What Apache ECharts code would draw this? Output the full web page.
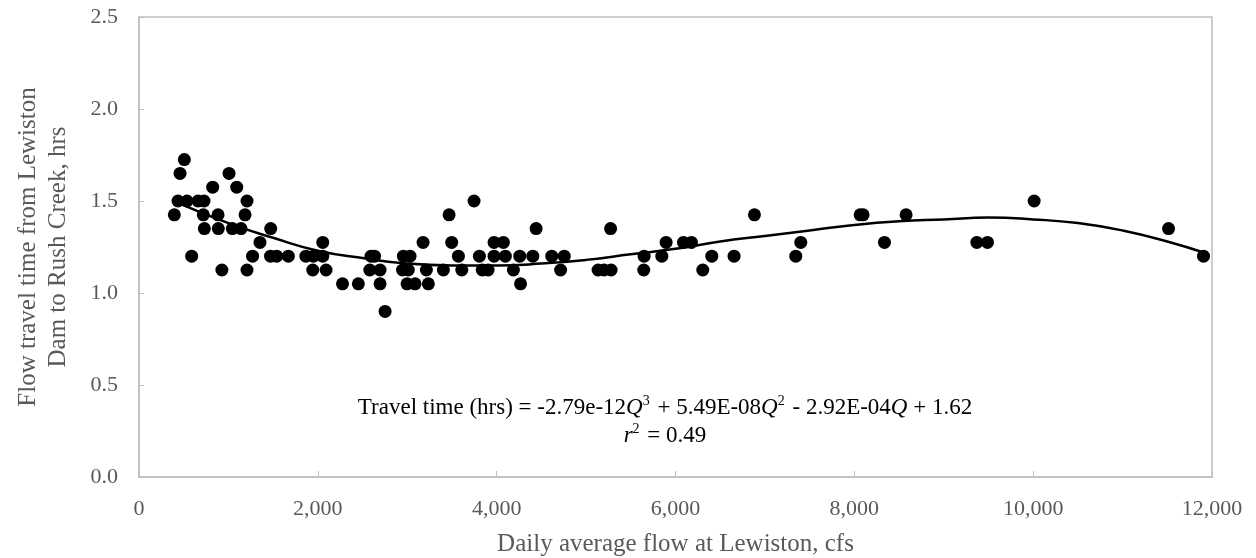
<!DOCTYPE html>
<html>
<head>
<meta charset="utf-8">
<script src="https://cdn.jsdelivr.net/npm/echarts@6/dist/echarts.min.js"></script>
<style>
  html, body { margin: 0; padding: 0; background: #fff; }
  #chart { width: 1256px; height: 558px; }
</style>
</head>
<body>
<div id="chart"></div>
<script>
// observed days: flow at Lewiston (cfs) and travel time (hrs)
const flowCfs = [
  507,
  459, 1007,
  824, 1093,
  436, 537, 660, 727, 1208, 3747, 10011,
  395, 719, 884, 1186, 3468, 6883, 8065, 8098, 8579,
  731, 887, 1044, 1141, 1473, 4441, 5274, 11514,
  1353, 2055, 3177, 3497, 3971, 4075, 5895, 6089, 6178, 7401, 8337, 9370, 9489,
  589, 1270, 1471, 1540, 1670, 1866, 1950, 2055, 2595, 2634, 2957, 3031, 3572, 3807, 3971, 4097, 4258, 4404, 4616, 4756, 5649, 5847, 6406, 6655, 7345, 11905,
  927, 1208, 1943, 2092, 2581, 2696, 2947, 3012, 3214, 3404, 3610, 3839, 3904, 4187, 4715, 5134, 5201, 5280, 5645, 6305,
  2276, 2453, 2696, 2998, 3087, 3236, 4267,
  2752
];
const travelHrs = [
  1.725,
  1.65, 1.65,
  1.575, 1.575,
  1.5, 1.5, 1.5, 1.5, 1.5, 1.5, 1.5,
  1.425, 1.425, 1.425, 1.425, 1.425, 1.425, 1.425, 1.425, 1.425,
  1.35, 1.35, 1.35, 1.35, 1.35, 1.35, 1.35, 1.35,
  1.275, 1.275, 1.275, 1.275, 1.275, 1.275, 1.275, 1.275, 1.275, 1.275, 1.275, 1.275, 1.275,
  1.2, 1.2, 1.2, 1.2, 1.2, 1.2, 1.2, 1.2, 1.2, 1.2, 1.2, 1.2, 1.2, 1.2, 1.2, 1.2, 1.2, 1.2, 1.2, 1.2, 1.2, 1.2, 1.2, 1.2, 1.2, 1.2,
  1.125, 1.125, 1.125, 1.125, 1.125, 1.125, 1.125, 1.125, 1.125, 1.125, 1.125, 1.125, 1.125, 1.125, 1.125, 1.125, 1.125, 1.125, 1.125, 1.125,
  1.05, 1.05, 1.05, 1.05, 1.05, 1.05, 1.05,
  0.9
];

// cubic trend line
const fitFlow = [436, 1000, 1500, 2000, 2500, 3000, 3500, 4000, 4500, 5000, 5500, 6000,
  6500, 7000, 7500, 8000, 8500, 9000, 9500, 10000, 10500, 11000, 11500, 11905];
const fitHrs = [1.49, 1.38, 1.30, 1.23, 1.19, 1.16, 1.15, 1.15, 1.16, 1.18, 1.21, 1.24,
  1.28, 1.31, 1.34, 1.37, 1.39, 1.40, 1.41, 1.40, 1.38, 1.34, 1.28, 1.22];

const xTicks = [0, 2000, 4000, 6000, 8000, 10000, 12000];

const FONT = '"Liberation Serif", "Times New Roman", serif';
const GRAY = '#595959';
const LINE = '#bfbfbf';

let chart = echarts.init(document.getElementById('chart'));

let points = flowCfs.map((q, i) => [q, travelHrs[i]]);
let fit = fitFlow.map((q, i) => [q, fitHrs[i]]);

// rich text styles for the fitted equation
const eqRich = {
  t: {fontFamily: FONT, fontSize: 23, color: GRAY, lineHeight: 28},
  i: {fontFamily: FONT, fontSize: 23, fontStyle: 'italic', color: GRAY, lineHeight: 28},
  s: {fontFamily: FONT, fontSize: 14, color: GRAY, verticalAlign: 'top', lineHeight: 28, padding: [0, 2, 12, 0]}
};

chart.setOption({
  animation: false,
  backgroundColor: '#fff',
  grid: {
    left: 139,
    right: 44,
    top: 17,
    bottom: 81,
    outerBoundsMode: 'none',
    show: true,
    borderColor: LINE,
    borderWidth: 1.5
  },
  xAxis: {
    type: 'value',
    min: xTicks[0],
    max: xTicks[xTicks.length - 1],
    interval: 2000,
    name: 'Daily average flow at Lewiston, cfs',
    nameLocation: 'middle',
    nameGap: 55,
    nameTextStyle: {fontFamily: FONT, fontSize: 25, color: GRAY},
    axisLine: {lineStyle: {color: LINE, width: 1.5}},
    axisTick: {show: true, inside: true, length: 6, lineStyle: {color: LINE}},
    splitLine: {show: false},
    axisLabel: {
      fontFamily: FONT, fontSize: 22, color: GRAY, margin: 21,
      formatter: (v) => v.toLocaleString('en-US')
    }
  },
  yAxis: {
    type: 'value',
    min: 0,
    max: 2.5,
    interval: 0.5,
    name: 'Flow travel time from Lewiston\nDam to Rush Creek, hrs',
    nameLocation: 'middle',
    nameGap: 66,
    nameTextStyle: {fontFamily: FONT, fontSize: 25, color: GRAY, lineHeight: 30},
    axisLine: {show: true, lineStyle: {color: LINE, width: 1.5}},
    axisTick: {show: true, inside: true, length: 5, lineStyle: {color: LINE}},
    splitLine: {show: false},
    axisLabel: {
      fontFamily: FONT, fontSize: 22, color: GRAY, margin: 21,
      formatter: (v) => v.toFixed(1)
    }
  },
  graphic: [{
    type: 'text',
    x: 665,
    y: 394,
    style: {
      text: '{t|Travel time (hrs) = -2.79e-12}{i|Q}{s|3}{t| + 5.49E-08}{i|Q}{s|2}{t| - 2.92E-04}{i|Q}{t| + 1.62}',
      align: 'center',
      rich: eqRich
    }
  }, {
    type: 'text',
    x: 665,
    y: 422,
    style: {
      text: '{i|r}{s|2}{t| = 0.49}',
      align: 'center',
      rich: eqRich
    }
  }],
  series: [{
    name: 'observed',
    type: 'scatter',
    data: points,
    symbol: 'circle',
    symbolSize: 13,
    itemStyle: {color: '#000', opacity: 1},
    z: 3
  }, {
    name: 'cubic fit',
    type: 'line',
    data: fit,
    smooth: true,
    showSymbol: false,
    lineStyle: {color: '#000', width: 2.5},
    z: 2
  }]
});
</script>
</body>
</html>
